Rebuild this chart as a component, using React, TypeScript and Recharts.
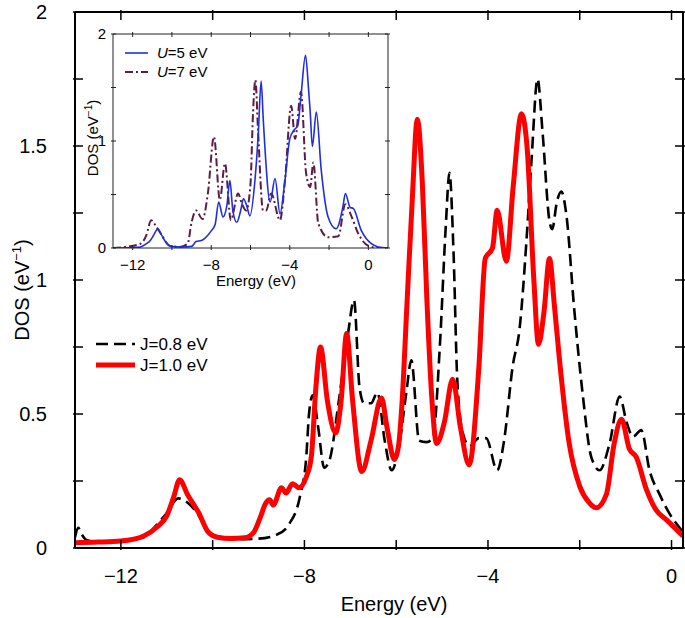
import { LineChart, Line, XAxis, YAxis } from 'recharts';

const FONT = '"Liberation Sans", Arial, Helvetica, sans-serif';

// main panel, J = 0.8 eV (black dashed)
const j08Energy = [
  -13.0, -12.93, -12.85, -12.75, -12.5, -12.0, -11.5, -11.2, -11.0, -10.75, -10.55, -10.3, -10.1,
  -9.9, -9.5, -9.0, -8.6, -8.33, -8.1, -7.96, -7.9, -7.82, -7.7, -7.57, -7.45, -7.25, -7.05,
  -6.92, -6.8, -6.7, -6.55, -6.41, -6.25, -6.1, -5.93, -5.78, -5.67, -5.5, -5.34, -5.2, -5.05,
  -4.92, -4.84, -4.75, -4.67, -4.55, -4.4, -4.2, -4.04, -3.8, -3.65, -3.46, -3.31, -3.16, -3.05,
  -2.92, -2.81, -2.66, -2.6, -2.5, -2.4, -2.29, -2.12, -1.94, -1.75, -1.57, -1.35, -1.13, -0.98,
  -0.84, -0.66, -0.48, -0.26, -0.05, 0.25,
];
const j08Dos = [
  0.04, 0.075, 0.05, 0.03, 0.022, 0.025, 0.04, 0.09, 0.13, 0.185, 0.17, 0.12, 0.06,
  0.04, 0.033, 0.035, 0.05, 0.09, 0.19, 0.34, 0.5, 0.57, 0.45, 0.3, 0.33, 0.55, 0.8,
  0.925, 0.6, 0.54, 0.54, 0.58, 0.4, 0.29, 0.39, 0.58, 0.7, 0.4, 0.395, 0.41, 0.75,
  1.2, 1.4, 1.1, 0.63, 0.43, 0.38, 0.41, 0.41, 0.29, 0.4, 0.68, 0.82, 1.15, 1.45,
  1.75, 1.55, 1.22, 1.19, 1.29, 1.33, 1.24, 0.89, 0.58, 0.34, 0.29, 0.39, 0.565, 0.47,
  0.415, 0.44, 0.29, 0.2, 0.13, 0.06,
];

// main panel, J = 1.0 eV (red)
const j10Energy = [
  -13.0, -12.5, -12.0, -11.5, -11.2, -11.0, -10.85, -10.72, -10.55, -10.3, -10.1, -9.9, -9.6,
  -9.3, -9.1, -8.95, -8.85, -8.76, -8.68, -8.5, -8.4, -8.26, -8.12, -7.96, -7.85, -7.75, -7.65,
  -7.5, -7.32, -7.2, -7.08, -6.95, -6.75, -6.55, -6.32, -6.2, -6.04, -5.95, -5.87, -5.76, -5.65,
  -5.54, -5.43, -5.33, -5.22, -5.12, -4.95, -4.77, -4.6, -4.41, -4.2, -4.06, -3.9, -3.8, -3.6,
  -3.45, -3.27, -3.15, -3.0, -2.9, -2.78, -2.66, -2.55, -2.44, -2.23, -2.0, -1.8, -1.64, -1.42,
  -1.25, -1.09, -0.92, -0.77, -0.55, -0.33, -0.11, 0.1, 0.25,
];
const j10Dos = [
  0.02, 0.022, 0.026, 0.045, 0.08, 0.12, 0.19, 0.255, 0.2, 0.13, 0.06, 0.04, 0.035,
  0.038, 0.06, 0.12, 0.165, 0.18, 0.16, 0.225, 0.205, 0.24, 0.225, 0.265, 0.34, 0.6, 0.75,
  0.55, 0.43, 0.55, 0.8, 0.55, 0.285, 0.4, 0.56, 0.45, 0.33, 0.38, 0.55, 0.93, 1.3,
  1.6, 1.36, 0.92, 0.55, 0.39, 0.47, 0.63, 0.45, 0.31, 0.67, 1.08, 1.12, 1.26, 1.07,
  1.35, 1.62, 1.5, 1.0, 0.76, 0.88, 1.08, 0.9, 0.7, 0.39, 0.23, 0.17, 0.15, 0.2,
  0.39, 0.48, 0.37, 0.34, 0.22, 0.14, 0.105, 0.07, 0.045,
];

// inset, U = 5 eV (blue)
const u5Energy = [
  -13.0, -12.0, -11.6, -11.3, -11.1, -10.9, -10.72, -10.55, -10.37, -10.05, -9.5, -9.0, -8.77,
  -8.5, -8.33, -8.0, -7.8, -7.62, -7.4, -7.2, -7.05, -6.9, -6.7, -6.5, -6.36, -6.2, -6.03,
  -5.77, -5.6, -5.46, -5.35, -5.27, -5.0, -4.75, -4.5, -4.24, -4.0, -3.75, -3.6, -3.43, -3.2,
  -3.05, -2.96, -2.85, -2.65, -2.4, -2.05, -1.64, -1.3, -1.17, -0.93, -0.77, -0.35, 0.15, 0.5, 1.0,
];
const u5Dos = [
  0.0, 0.005, 0.01, 0.04, 0.07, 0.13, 0.18, 0.13, 0.07, 0.015, 0.01, 0.015, 0.06,
  0.07, 0.09, 0.16, 0.22, 0.43, 0.29, 0.4, 0.63, 0.35, 0.24, 0.35, 0.46, 0.4, 0.3,
  0.64, 1.08, 1.56, 1.2, 0.95, 0.43, 0.65, 0.32, 0.64, 1.02, 1.11, 1.14, 1.42, 1.8,
  1.5, 1.27, 0.95, 1.27, 0.73, 0.29, 0.18, 0.38, 0.51, 0.38, 0.37, 0.16, 0.04, 0.01, 0.0,
];

// inset, U = 7 eV (maroon dash-dot)
const u7Energy = [
  -13.0, -12.4, -11.6, -11.3, -11.06, -10.8, -10.55, -10.1, -9.6, -9.2, -9.0, -8.77, -8.44,
  -8.17, -7.86, -7.56, -7.3, -7.0, -6.63, -6.45, -6.22, -6.0, -5.87, -5.75, -5.62, -5.36, -5.2,
  -4.95, -4.5, -4.24, -3.93, -3.73, -3.43, -3.17, -2.96, -2.8, -2.55, -2.04, -1.53, -1.17, -0.87,
  -0.5, 0.0, 0.5, 1.0,
];
const u7Dos = [
  0.0, 0.01, 0.04, 0.12, 0.26, 0.2, 0.13, 0.02, 0.01, 0.04, 0.24, 0.35, 0.27,
  0.51, 1.04, 0.45, 0.79, 0.26, 0.51, 0.42, 0.35, 0.6, 1.27, 1.57, 1.11, 0.35, 0.35,
  0.51, 0.26, 0.64, 1.33, 1.02, 1.46, 0.7, 0.57, 0.8, 0.23, 0.1, 0.11, 0.41, 0.3,
  0.13, 0.02, 0.0, 0.0,
];

const mainXTicks = [-12, -10, -8, -6, -4, -2, 0];
const mainXLabels = [-12, -8, -4, 0];
const mainYTicks = [0, 0.25, 0.5, 0.75, 1, 1.25, 1.5, 1.75, 2];
const mainYLabels = [0, 0.5, 1, 1.5, 2];
const insetXTicks = [-12, -10, -8, -6, -4, -2, 0];
const insetXLabels = [-12, -8, -4, 0];
const insetYTicks = [0, 0.5, 1, 1.5, 2];
const insetYLabels = [0, 1, 2];

const zip = (e: number[], v: number[]) => e.map((x, i) => ({ e: x, v: v[i] }));
const fmt = (n: number) => (n < 0 ? `\u2212${-n}` : `${n}`);

type Side = 'bottom' | 'top' | 'left' | 'right';

// inward tick marks + label, drawn from the axis position recharts hands us
function makeTick(side: Side, len: number, labels: number[], fontSize: number, gap: number, color: string, sw: number) {
  return (props: any) => {
    const { x, y, payload } = props;
    const val = payload.value;
    const show = labels.includes(val);
    let line = null;
    let text = null;
    if (side === 'bottom') {
      line = <line x1={x} x2={x} y1={y} y2={y - len} stroke={color} strokeWidth={sw} />;
      if (show)
        text = (
          <text x={x} y={y + gap} textAnchor="middle" fontSize={fontSize} fontFamily={FONT} fill="#000">
            {fmt(val)}
          </text>
        );
    } else if (side === 'top') {
      line = <line x1={x} x2={x} y1={y} y2={y + len} stroke={color} strokeWidth={sw} />;
    } else if (side === 'left') {
      line = <line x1={x} x2={x + len} y1={y} y2={y} stroke={color} strokeWidth={sw} />;
      if (show)
        text = (
          <text x={x - gap} y={y + fontSize * 0.36} textAnchor="end" fontSize={fontSize} fontFamily={FONT} fill="#000">
            {fmt(val)}
          </text>
        );
    } else {
      line = <line x1={x} x2={x - len} y1={y} y2={y} stroke={color} strokeWidth={sw} />;
    }
    return (
      <g>
        {line}
        {text}
      </g>
    );
  };
}

function Inset() {
  const frame = { stroke: '#222', strokeWidth: 1 };
  return (
    <div style={{ position: 'absolute', left: 60, top: 20, width: 335, height: 280 }}>
      <LineChart width={335} height={280} margin={{ top: 13, right: 6, bottom: 0, left: 0 }}>
        <XAxis
          xAxisId="b"
          type="number"
          dataKey="e"
          domain={[-13, 1]}
          allowDataOverflow
          ticks={insetXTicks}
          interval={0}
          tickSize={0}
          tickLine={false}
          axisLine={frame}
          height={52}
          tick={makeTick('bottom', 5, insetXLabels, 15, 20, '#222', 1)}
        />
        <XAxis
          xAxisId="t"
          orientation="top"
          type="number"
          dataKey="e"
          domain={[-13, 1]}
          allowDataOverflow
          ticks={insetXTicks}
          interval={0}
          tickSize={0}
          tickLine={false}
          axisLine={frame}
          height={1}
          tick={makeTick('top', 5, [], 15, 0, '#222', 1)}
        />
        <YAxis
          yAxisId="l"
          type="number"
          domain={[0, 2]}
          allowDataOverflow
          ticks={insetYTicks}
          interval={0}
          tickSize={0}
          tickLine={false}
          axisLine={frame}
          width={53}
          tick={makeTick('left', 5, insetYLabels, 15, 5, '#222', 1)}
        />
        <YAxis
          yAxisId="r"
          orientation="right"
          type="number"
          domain={[0, 2]}
          allowDataOverflow
          ticks={insetYTicks}
          interval={0}
          tickSize={0}
          tickLine={false}
          axisLine={frame}
          width={1}
          tick={makeTick('right', 5, [], 15, 0, '#222', 1)}
        />
        {/* U=7 is bound to the top/right axes (same domains) so the frame is drawn on all sides */}
        <Line
          xAxisId="t"
          yAxisId="r"
          data={zip(u7Energy, u7Dos)}
          dataKey="v"
          type="monotone"
          stroke="#5c1c44"
          strokeWidth={2}
          strokeDasharray="8 3 2 3"
          dot={false}
          isAnimationActive={false}
        />
        <Line
          xAxisId="b"
          yAxisId="l"
          data={zip(u5Energy, u5Dos)}
          dataKey="v"
          type="monotone"
          stroke="#1f2ee0"
          strokeWidth={1.6}
          dot={false}
          isAnimationActive={false}
        />
        <text x={196} y={266} textAnchor="middle" fontSize={15} fontFamily={FONT}>
          Energy (eV)
        </text>
        <text transform="translate(38,118) rotate(-90)" textAnchor="middle" fontSize={15} fontFamily={FONT}>
          DOS (eV<tspan dy={-6} fontSize={10}>{'\u22121'}</tspan>
          <tspan dy={6}>)</tspan>
        </text>
        <g fontFamily={FONT} fontSize={15}>
          <line x1={65} x2={88} y1={33} y2={33} stroke="#1f2ee0" strokeWidth={1.6} />
          <text x={97} y={38}>
            <tspan fontStyle="italic">U</tspan>=5 eV
          </text>
          <line x1={65} x2={88} y1={52} y2={52} stroke="#5c1c44" strokeWidth={2} strokeDasharray="8 3 2 3" />
          <text x={97} y={57}>
            <tspan fontStyle="italic">U</tspan>=7 eV
          </text>
        </g>
      </LineChart>
    </div>
  );
}

export default function App() {
  const frame = { stroke: '#000', strokeWidth: 2 };
  return (
    <div style={{ position: 'absolute', left: 0, top: 0, width: 685, height: 618, background: '#fff' }}>
      <LineChart width={685} height={618} margin={{ top: 11, right: 1, bottom: 0, left: 0 }}>
        <XAxis
          xAxisId="b"
          type="number"
          dataKey="e"
          domain={[-13, 0.25]}
          allowDataOverflow
          ticks={mainXTicks}
          interval={0}
          tickSize={0}
          tickLine={false}
          axisLine={frame}
          height={70}
          tick={makeTick('bottom', 10, mainXLabels, 20, 33, '#000', 1.5)}
        />
        <XAxis
          xAxisId="t"
          orientation="top"
          type="number"
          dataKey="e"
          domain={[-13, 0.25]}
          allowDataOverflow
          ticks={mainXTicks}
          interval={0}
          tickSize={0}
          tickLine={false}
          axisLine={frame}
          height={1}
          tick={makeTick('top', 10, [], 20, 0, '#000', 1.5)}
        />
        <YAxis
          yAxisId="l"
          type="number"
          domain={[0, 2]}
          allowDataOverflow
          ticks={mainYTicks}
          interval={0}
          tickSize={0}
          tickLine={false}
          axisLine={frame}
          width={75}
          tick={makeTick('left', 10, mainYLabels, 20, 26, '#000', 1.5)}
        />
        <YAxis
          yAxisId="r"
          orientation="right"
          type="number"
          domain={[0, 2]}
          allowDataOverflow
          ticks={mainYTicks}
          interval={0}
          tickSize={0}
          tickLine={false}
          axisLine={frame}
          width={1}
          tick={makeTick('right', 10, [], 20, 0, '#000', 1.5)}
        />
        {/* J=0.8 is bound to the top/right axes (same domains) so the frame is drawn on all sides */}
        <Line
          xAxisId="t"
          yAxisId="r"
          data={zip(j08Energy, j08Dos)}
          dataKey="v"
          type="monotone"
          stroke="#000"
          strokeWidth={2.6}
          strokeDasharray="12 6"
          dot={false}
          isAnimationActive={false}
        />
        <Line
          xAxisId="b"
          yAxisId="l"
          data={zip(j10Energy, j10Dos)}
          dataKey="v"
          type="monotone"
          stroke="#ff0000"
          strokeWidth={5}
          dot={false}
          isAnimationActive={false}
        />
        <text x={394} y={611} textAnchor="middle" fontSize={20} fontFamily={FONT}>
          Energy (eV)
        </text>
        <text transform="translate(29,290) rotate(-90)" textAnchor="middle" fontSize={20} fontFamily={FONT}>
          DOS (eV<tspan dy={-8} fontSize={13}>{'\u22121'}</tspan>
          <tspan dy={8}>)</tspan>
        </text>
        <g fontFamily={FONT} fontSize={17}>
          <line x1={96} x2={135} y1={344} y2={344} stroke="#000" strokeWidth={2.6} strokeDasharray="12 6" />
          <text x={140} y={350}>J=0.8 eV</text>
          <line x1={96} x2={135} y1={365} y2={365} stroke="#ff0000" strokeWidth={5} />
          <text x={140} y={371}>J=1.0 eV</text>
        </g>
      </LineChart>
      <Inset />
    </div>
  );
}
